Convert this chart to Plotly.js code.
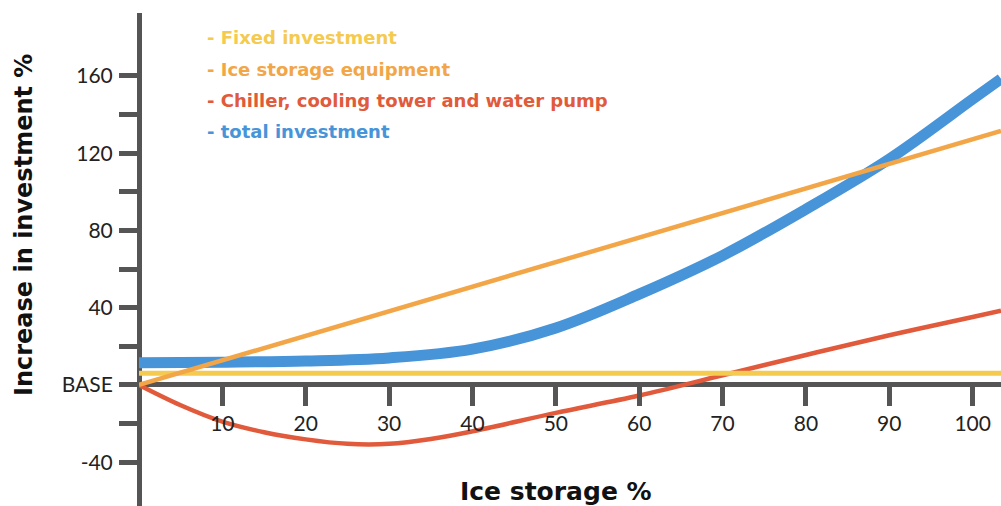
<!DOCTYPE html>
<html>
<head>
<meta charset="utf-8">
<script src="https://cdn.plot.ly/plotly-3.0.1.min.js"></script>
<style>
html,body{margin:0;padding:0;background:#fff;}
#chart{width:1001px;height:506px;}
</style>
</head>
<body>
<div id="chart"></div>
<script>
// ---- data ----
const seriesNames = [
  "Fixed investment",
  "Ice storage equipment",
  "Chiller, cooling tower and water pump",
  "total investment"
];

const fixedX = [0, 103.4];
const fixedY = [6, 6];

const iceX = [0, 103.4];
const iceY = [0, 131.5];

const chillerX = [0, 5, 10, 15, 20, 25, 30, 35, 40, 50, 60, 70, 80, 90, 100, 103.4];
const chillerY = [0, -10.5, -19, -24.5, -28.2, -30.5, -30.5, -28, -24, -14.5, -5.5, 5, 15.5, 25.7, 35.2, 38.5];

const totalX = [0, 10, 20, 30, 40, 50, 60, 70, 80, 90, 100, 103.4];
const totalY = [11.5, 11.8, 12.4, 14, 18.5, 29.5, 47, 67, 91, 117, 148, 158.5];

const xTickVals = [10, 20, 30, 40, 50, 60, 70, 80, 90, 100];
const xTickText = ["10", "20", "30", "40", "50", "60", "70", "80", "90", "100"];
const yTickVals = [-40, -20, 0, 20, 40, 60, 80, 100, 120, 140, 160];
const yTickText = ["-40", "", "BASE", "", "40", "", "80", "", "120", "", "160"];

const xTitle = "Ice storage %";
const yTitle = "Increase in investment %";

// ---- styles ----
const colors = ["#F4CA4F", "#F2A647", "#E05A3B", "#4794D9"];
const axisColor = "#555555";
const FONT = "Lato, 'DejaVu Sans', sans-serif";
const WIDE = "'DejaVu Sans', sans-serif";

const traces = [
  {x: totalX, y: totalY, mode: "lines", name: seriesNames[3],
   line: {color: colors[3], width: 11, shape: "spline", smoothing: 1}},
  {x: chillerX, y: chillerY, mode: "lines", name: seriesNames[2],
   line: {color: colors[2], width: 4.5, shape: "spline", smoothing: 1}},
  {x: fixedX, y: fixedY, mode: "lines", name: seriesNames[0],
   line: {color: colors[0], width: 5}},
  {x: iceX, y: iceY, mode: "lines", name: seriesNames[1],
   line: {color: colors[1], width: 4.5}}
];

const legendY = [37, 69, 100, 131]; // pixel rows of the label list
const annotations = seriesNames.map((n, i) => ({
  text: "<b>- " + n + "</b>",
  xref: "paper", yref: "paper",
  x: (205 - 139) / 862, y: (506 - legendY[i]) / 493,
  xanchor: "left", yanchor: "middle", showarrow: false,
  font: {family: WIDE, size: 18, color: colors[i]}
}));
annotations.push({
  text: "<b>" + xTitle + "</b>", xref: "paper", yref: "paper",
  x: (556 - 139) / 862, y: (506 - 491) / 493, xanchor: "center", yanchor: "middle",
  showarrow: false, font: {family: WIDE, size: 25, color: "#111"}
});
annotations.push({
  text: "<b>" + yTitle + "</b>", xref: "paper", yref: "paper",
  x: (24 - 139) / 862, y: (506 - 225) / 493, xanchor: "center", yanchor: "middle",
  textangle: -90, showarrow: false, font: {family: WIDE, size: 24, color: "#111"}
});

const layout = {
  width: 1001, height: 506,
  margin: {l: 139, r: 0, t: 13, b: 0, pad: 0},
  paper_bgcolor: "#fff", plot_bgcolor: "#fff",
  showlegend: false,
  font: {family: FONT, color: "#222"},
  xaxis: {
    range: [0, 103.4], anchor: "free", position: 62.7 / 255.3,
    showgrid: false, showline: false,
    zeroline: true, zerolinecolor: axisColor, zerolinewidth: 5,
    tickmode: "array", tickvals: xTickVals, ticktext: xTickText,
    ticks: "outside", ticklen: 20, tickwidth: 5, tickcolor: axisColor,
    tickfont: {family: FONT, size: 21, color: "#222"}
  },
  yaxis: {
    range: [-62.7, 192.6],
    showgrid: false, showline: false,
    zeroline: true, zerolinecolor: axisColor, zerolinewidth: 5,
    tickmode: "array", tickvals: yTickVals, ticktext: yTickText,
    ticks: "outside", ticklen: 19, tickwidth: 5, tickcolor: axisColor,
    ticklabelstandoff: 2,
    tickfont: {family: FONT, size: 21, color: "#222"}
  },
  annotations: annotations
};

Plotly.newPlot("chart", traces, layout, {displayModeBar: false, staticPlot: true});
</script>
</body>
</html>
